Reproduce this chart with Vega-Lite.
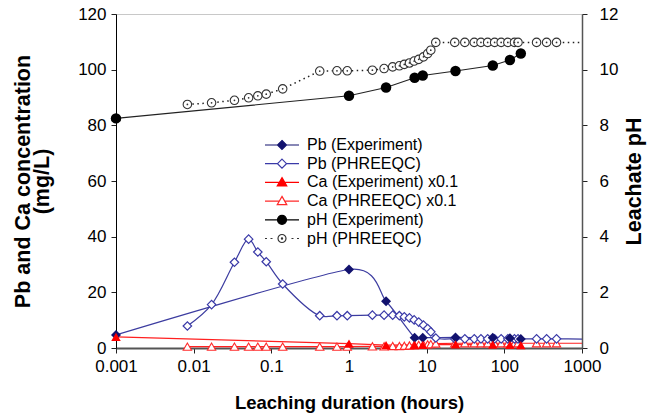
{
  "$schema": "https://vega.github.io/schema/vega-lite/v6.json",
  "width": 466,
  "height": 334,
  "autosize": {"type": "none"},
  "padding": {"left": 116, "top": 14, "right": 71, "bottom": 70},
  "background": "white",
  "config": {
    "font": "Liberation Sans",
    "view": {"stroke": "#c8c8c8", "strokeWidth": 1},
    "axis": {
      "grid": false,
      "labelFont": "Liberation Sans",
      "labelFontSize": 17,
      "labelColor": "black",
      "labelFlush": false,
      "titleFont": "Liberation Sans",
      "titleFontSize": 20,
      "titleFontWeight": "bold",
      "titleColor": "black",
      "tickSize": 5,
      "tickColor": "#222",
      "domainColor": "black"
    }
  },
  "data": {
    "values": [
      {"series": "Pb (Experiment)", "hours": 0.001, "value": 4.7, "sampled": true},
      {"series": "Pb (Experiment)", "hours": 1, "value": 28.2, "sampled": true},
      {"series": "Pb (Experiment)", "hours": 3, "value": 16.8, "sampled": true},
      {"series": "Pb (Experiment)", "hours": 7, "value": 3.7, "sampled": true},
      {"series": "Pb (Experiment)", "hours": 8.9, "value": 3.7, "sampled": true},
      {"series": "Pb (Experiment)", "hours": 23.5, "value": 3.8, "sampled": true},
      {"series": "Pb (Experiment)", "hours": 71, "value": 3.7, "sampled": true},
      {"series": "Pb (Experiment)", "hours": 118, "value": 3.5, "sampled": true},
      {"series": "Pb (Experiment)", "hours": 163, "value": 3.2, "sampled": true},
      {"series": "Ca (Experiment) x0.1", "hours": 0.001, "value": 4.0, "sampled": true},
      {"series": "Ca (Experiment) x0.1", "hours": 1, "value": 1.6, "sampled": true},
      {"series": "Ca (Experiment) x0.1", "hours": 3, "value": 1.0, "sampled": true},
      {"series": "Ca (Experiment) x0.1", "hours": 7, "value": 1.1, "sampled": true},
      {"series": "Ca (Experiment) x0.1", "hours": 8.9, "value": 1.1, "sampled": true},
      {"series": "Ca (Experiment) x0.1", "hours": 23.5, "value": 1.3, "sampled": true},
      {"series": "Ca (Experiment) x0.1", "hours": 71, "value": 1.2, "sampled": true},
      {"series": "Ca (Experiment) x0.1", "hours": 118, "value": 1.1, "sampled": true},
      {"series": "Ca (Experiment) x0.1", "hours": 163, "value": 1.0, "sampled": true},
      {"series": "pH (Experiment)", "hours": 0.001, "value": 8.25, "sampled": true},
      {"series": "pH (Experiment)", "hours": 1, "value": 9.06, "sampled": true},
      {"series": "pH (Experiment)", "hours": 3, "value": 9.36, "sampled": true},
      {"series": "pH (Experiment)", "hours": 7, "value": 9.71, "sampled": true},
      {"series": "pH (Experiment)", "hours": 8.9, "value": 9.79, "sampled": true},
      {"series": "pH (Experiment)", "hours": 23.5, "value": 9.95, "sampled": true},
      {"series": "pH (Experiment)", "hours": 71, "value": 10.15, "sampled": true},
      {"series": "pH (Experiment)", "hours": 118, "value": 10.35, "sampled": true},
      {"series": "pH (Experiment)", "hours": 163, "value": 10.58, "sampled": true},

      {"series": "Pb (PHREEQC)", "hours": 0.0083, "value": 7.9, "sampled": true},
      {"series": "Pb (PHREEQC)", "hours": 0.017, "value": 15.6, "sampled": true},
      {"series": "Pb (PHREEQC)", "hours": 0.0335, "value": 30.8, "sampled": true},
      {"series": "Pb (PHREEQC)", "hours": 0.051, "value": 39.1, "sampled": true},
      {"series": "Pb (PHREEQC)", "hours": 0.067, "value": 34.5, "sampled": true},
      {"series": "Pb (PHREEQC)", "hours": 0.086, "value": 31.0, "sampled": true},
      {"series": "Pb (PHREEQC)", "hours": 0.14, "value": 23.0, "sampled": true},
      {"series": "Pb (PHREEQC)", "hours": 0.42, "value": 11.6, "sampled": true},
      {"series": "Pb (PHREEQC)", "hours": 0.7, "value": 11.6, "sampled": true},
      {"series": "Pb (PHREEQC)", "hours": 0.95, "value": 11.6, "sampled": true},
      {"series": "Pb (PHREEQC)", "hours": 2.0, "value": 11.8, "sampled": true},
      {"series": "Pb (PHREEQC)", "hours": 2.83, "value": 11.8, "sampled": true},
      {"series": "Pb (PHREEQC)", "hours": 3.65, "value": 11.8, "sampled": true},
      {"series": "Pb (PHREEQC)", "hours": 4.45, "value": 11.6, "sampled": true},
      {"series": "Pb (PHREEQC)", "hours": 5.15, "value": 11.2, "sampled": true},
      {"series": "Pb (PHREEQC)", "hours": 6.0, "value": 10.8, "sampled": true},
      {"series": "Pb (PHREEQC)", "hours": 6.9, "value": 10.1, "sampled": true},
      {"series": "Pb (PHREEQC)", "hours": 7.9, "value": 9.3, "sampled": true},
      {"series": "Pb (PHREEQC)", "hours": 9.1, "value": 8.2, "sampled": true},
      {"series": "Pb (PHREEQC)", "hours": 10.3, "value": 7.0, "sampled": true},
      {"series": "Pb (PHREEQC)", "hours": 11.3, "value": 5.8, "sampled": true},
      {"series": "Pb (PHREEQC)", "hours": 13.1, "value": 3.6, "sampled": true},
      {"series": "Pb (PHREEQC)", "hours": 23, "value": 3.3, "sampled": true},
      {"series": "Pb (PHREEQC)", "hours": 31, "value": 3.3, "sampled": true},
      {"series": "Pb (PHREEQC)", "hours": 41, "value": 3.3, "sampled": true},
      {"series": "Pb (PHREEQC)", "hours": 50, "value": 3.3, "sampled": true},
      {"series": "Pb (PHREEQC)", "hours": 61, "value": 3.3, "sampled": true},
      {"series": "Pb (PHREEQC)", "hours": 75, "value": 3.3, "sampled": true},
      {"series": "Pb (PHREEQC)", "hours": 91, "value": 3.3, "sampled": true},
      {"series": "Pb (PHREEQC)", "hours": 111, "value": 3.3, "sampled": true},
      {"series": "Pb (PHREEQC)", "hours": 135, "value": 3.3, "sampled": true},
      {"series": "Pb (PHREEQC)", "hours": 150, "value": 3.3, "sampled": true},
      {"series": "Pb (PHREEQC)", "hours": 260, "value": 3.3, "sampled": true},
      {"series": "Pb (PHREEQC)", "hours": 350, "value": 3.3, "sampled": true},
      {"series": "Pb (PHREEQC)", "hours": 470, "value": 3.3, "sampled": true},
      {"series": "Pb (PHREEQC)", "hours": 1000, "value": 3.2, "sampled": false},

      {"series": "Ca (PHREEQC) x0.1", "hours": 0.0083, "value": 0.5, "sampled": true},
      {"series": "Ca (PHREEQC) x0.1", "hours": 0.017, "value": 0.5, "sampled": true},
      {"series": "Ca (PHREEQC) x0.1", "hours": 0.0335, "value": 0.5, "sampled": true},
      {"series": "Ca (PHREEQC) x0.1", "hours": 0.051, "value": 0.5, "sampled": true},
      {"series": "Ca (PHREEQC) x0.1", "hours": 0.067, "value": 0.5, "sampled": true},
      {"series": "Ca (PHREEQC) x0.1", "hours": 0.086, "value": 0.5, "sampled": true},
      {"series": "Ca (PHREEQC) x0.1", "hours": 0.14, "value": 0.5, "sampled": true},
      {"series": "Ca (PHREEQC) x0.1", "hours": 0.42, "value": 0.5, "sampled": true},
      {"series": "Ca (PHREEQC) x0.1", "hours": 0.7, "value": 0.5, "sampled": true},
      {"series": "Ca (PHREEQC) x0.1", "hours": 0.95, "value": 0.5, "sampled": true},
      {"series": "Ca (PHREEQC) x0.1", "hours": 2.0, "value": 0.6, "sampled": true},
      {"series": "Ca (PHREEQC) x0.1", "hours": 2.83, "value": 0.6, "sampled": true},
      {"series": "Ca (PHREEQC) x0.1", "hours": 3.65, "value": 0.7, "sampled": true},
      {"series": "Ca (PHREEQC) x0.1", "hours": 4.45, "value": 0.7, "sampled": true},
      {"series": "Ca (PHREEQC) x0.1", "hours": 5.15, "value": 0.8, "sampled": true},
      {"series": "Ca (PHREEQC) x0.1", "hours": 6.0, "value": 0.9, "sampled": true},
      {"series": "Ca (PHREEQC) x0.1", "hours": 6.9, "value": 1.0, "sampled": true},
      {"series": "Ca (PHREEQC) x0.1", "hours": 7.9, "value": 1.1, "sampled": true},
      {"series": "Ca (PHREEQC) x0.1", "hours": 9.1, "value": 1.2, "sampled": true},
      {"series": "Ca (PHREEQC) x0.1", "hours": 10.3, "value": 1.3, "sampled": true},
      {"series": "Ca (PHREEQC) x0.1", "hours": 11.3, "value": 1.4, "sampled": true},
      {"series": "Ca (PHREEQC) x0.1", "hours": 13.1, "value": 1.6, "sampled": true},
      {"series": "Ca (PHREEQC) x0.1", "hours": 23, "value": 1.7, "sampled": true},
      {"series": "Ca (PHREEQC) x0.1", "hours": 31, "value": 1.7, "sampled": true},
      {"series": "Ca (PHREEQC) x0.1", "hours": 41, "value": 1.7, "sampled": true},
      {"series": "Ca (PHREEQC) x0.1", "hours": 50, "value": 1.7, "sampled": true},
      {"series": "Ca (PHREEQC) x0.1", "hours": 61, "value": 1.7, "sampled": true},
      {"series": "Ca (PHREEQC) x0.1", "hours": 75, "value": 1.7, "sampled": true},
      {"series": "Ca (PHREEQC) x0.1", "hours": 91, "value": 1.7, "sampled": true},
      {"series": "Ca (PHREEQC) x0.1", "hours": 111, "value": 1.7, "sampled": true},
      {"series": "Ca (PHREEQC) x0.1", "hours": 135, "value": 1.7, "sampled": true},
      {"series": "Ca (PHREEQC) x0.1", "hours": 150, "value": 1.7, "sampled": true},
      {"series": "Ca (PHREEQC) x0.1", "hours": 260, "value": 1.7, "sampled": true},
      {"series": "Ca (PHREEQC) x0.1", "hours": 350, "value": 1.7, "sampled": true},
      {"series": "Ca (PHREEQC) x0.1", "hours": 470, "value": 1.7, "sampled": true},
      {"series": "Ca (PHREEQC) x0.1", "hours": 1000, "value": 1.7, "sampled": false},

      {"series": "pH (PHREEQC)", "hours": 0.0083, "value": 8.75, "sampled": true},
      {"series": "pH (PHREEQC)", "hours": 0.017, "value": 8.81, "sampled": true},
      {"series": "pH (PHREEQC)", "hours": 0.0335, "value": 8.9, "sampled": true},
      {"series": "pH (PHREEQC)", "hours": 0.051, "value": 8.99, "sampled": true},
      {"series": "pH (PHREEQC)", "hours": 0.067, "value": 9.06, "sampled": true},
      {"series": "pH (PHREEQC)", "hours": 0.086, "value": 9.12, "sampled": true},
      {"series": "pH (PHREEQC)", "hours": 0.14, "value": 9.31, "sampled": true},
      {"series": "pH (PHREEQC)", "hours": 0.42, "value": 9.95, "sampled": true},
      {"series": "pH (PHREEQC)", "hours": 0.7, "value": 9.96, "sampled": true},
      {"series": "pH (PHREEQC)", "hours": 0.95, "value": 9.96, "sampled": true},
      {"series": "pH (PHREEQC)", "hours": 2.0, "value": 9.98, "sampled": true},
      {"series": "pH (PHREEQC)", "hours": 2.83, "value": 10.04, "sampled": true},
      {"series": "pH (PHREEQC)", "hours": 3.65, "value": 10.1, "sampled": true},
      {"series": "pH (PHREEQC)", "hours": 4.45, "value": 10.14, "sampled": true},
      {"series": "pH (PHREEQC)", "hours": 5.15, "value": 10.19, "sampled": true},
      {"series": "pH (PHREEQC)", "hours": 6.0, "value": 10.24, "sampled": true},
      {"series": "pH (PHREEQC)", "hours": 6.9, "value": 10.31, "sampled": true},
      {"series": "pH (PHREEQC)", "hours": 7.9, "value": 10.37, "sampled": true},
      {"series": "pH (PHREEQC)", "hours": 9.1, "value": 10.46, "sampled": true},
      {"series": "pH (PHREEQC)", "hours": 10.3, "value": 10.58, "sampled": true},
      {"series": "pH (PHREEQC)", "hours": 11.3, "value": 10.7, "sampled": true},
      {"series": "pH (PHREEQC)", "hours": 13.1, "value": 10.98, "sampled": true},
      {"series": "pH (PHREEQC)", "hours": 23, "value": 10.98, "sampled": true},
      {"series": "pH (PHREEQC)", "hours": 31, "value": 10.98, "sampled": true},
      {"series": "pH (PHREEQC)", "hours": 41, "value": 10.98, "sampled": true},
      {"series": "pH (PHREEQC)", "hours": 50, "value": 10.98, "sampled": true},
      {"series": "pH (PHREEQC)", "hours": 61, "value": 10.98, "sampled": true},
      {"series": "pH (PHREEQC)", "hours": 75, "value": 10.98, "sampled": true},
      {"series": "pH (PHREEQC)", "hours": 91, "value": 10.98, "sampled": true},
      {"series": "pH (PHREEQC)", "hours": 111, "value": 10.98, "sampled": true},
      {"series": "pH (PHREEQC)", "hours": 135, "value": 10.98, "sampled": true},
      {"series": "pH (PHREEQC)", "hours": 150, "value": 10.98, "sampled": true},
      {"series": "pH (PHREEQC)", "hours": 260, "value": 10.98, "sampled": true},
      {"series": "pH (PHREEQC)", "hours": 350, "value": 10.98, "sampled": true},
      {"series": "pH (PHREEQC)", "hours": 470, "value": 10.98, "sampled": true},
      {"series": "pH (PHREEQC)", "hours": 1000, "value": 10.98, "sampled": false}
    ]
  },
  "encoding": {
    "x": {
      "field": "hours",
      "type": "quantitative",
      "scale": {"type": "log", "domain": [0.001, 1000]},
      "axis": {
        "values": [0.001, 0.01, 0.1, 1, 10, 100, 1000],
        "format": "~g",
        "title": "Leaching duration (hours)",
        "titleFontSize": 18.5,
        "domainColor": "#555",
        "domainWidth": 2,
        "labelPadding": 5,
        "titlePadding": 19
      }
    }
  },
  "layer": [
    {
      "transform": [{"filter": "indexof(datum.series, 'pH') < 0"}],
      "encoding": {
        "y": {
          "field": "value",
          "type": "quantitative",
          "scale": {"domain": [0, 120]},
          "axis": {
            "orient": "left",
            "values": [0, 20, 40, 60, 80, 100, 120],
            "title": ["Pb and Ca concentration", "(mg/L)"],
            "titleFontSize": 21.5,
            "titleLineHeight": 19,
            "labelPadding": 5,
            "titlePadding": 24
          }
        }
      },
      "layer": [
        {
          "transform": [{"filter": "datum.series == 'Pb (Experiment)'"}],
          "mark": {"type": "line", "interpolate": "cardinal", "tension": 0.35, "strokeWidth": 1.2, "clip": true, "color": "#3c3ca0"},
          "encoding": {}
        },
        {
          "transform": [{"filter": "datum.series == 'Pb (PHREEQC)'"}],
          "mark": {"type": "line", "interpolate": "catmull-rom", "strokeWidth": 1.2, "clip": true, "color": "#3c3ca0"},
          "encoding": {}
        },
        {
          "transform": [{"filter": "indexof(datum.series, 'Ca') == 0"}],
          "mark": {"type": "line", "strokeWidth": 1.2, "clip": true, "color": "#ff2020"},
          "encoding": {"detail": {"field": "series"}}
        },
        {
          "transform": [{"filter": "datum.sampled && datum.series == 'Ca (PHREEQC) x0.1'"}],
          "mark": {"type": "point", "shape": "triangle-up", "size": 70, "strokeWidth": 1.1, "opacity": 1, "filled": false, "fill": "white", "color": "#ff2a2a"}
        },
        {
          "transform": [{"filter": "datum.sampled && datum.series == 'Pb (PHREEQC)'"}],
          "mark": {"type": "point", "shape": "diamond", "size": 72, "strokeWidth": 1.2, "opacity": 1, "filled": false, "fill": "white", "color": "#3a3aa8"}
        },
        {
          "transform": [{"filter": "datum.series == 'Pb (Experiment)'"}],
          "mark": {"type": "point", "shape": "diamond", "size": 100, "opacity": 1, "filled": true, "color": "#12126e"}
        },
        {
          "transform": [{"filter": "datum.series == 'Ca (Experiment) x0.1'"}],
          "mark": {"type": "point", "shape": "triangle-up", "size": 90, "opacity": 1, "filled": true, "color": "#ff0000"}
        },
        {
          "mark": {"type": "point", "opacity": 0, "strokeWidth": 1.2},
          "encoding": {
            "color": {
              "field": "series",
              "type": "nominal",
              "scale": {
                "domain": ["Pb (Experiment)", "Pb (PHREEQC)", "Ca (Experiment) x0.1", "Ca (PHREEQC) x0.1", "pH (Experiment)", "pH (PHREEQC)"],
                "range": ["#12126e", "#3a3aa8", "#ff0000", "#ff2a2a", "#000000", "#333333"]
              },
              "legend": {
                "title": null,
                "orient": "none",
                "legendX": 158,
                "legendY": 123,
                "labelFont": "Liberation Sans",
                "labelFontSize": 16,
                "labelColor": "black",
                "labelOffset": 17,
                "rowPadding": 2.7,
                "symbolSize": 100,
                "symbolStrokeWidth": 1.2,
                "symbolOpacity": 1
              }
            },
            "fill": {
              "field": "series",
              "type": "nominal",
              "scale": {
                "domain": ["Pb (Experiment)", "Pb (PHREEQC)", "Ca (Experiment) x0.1", "Ca (PHREEQC) x0.1", "pH (Experiment)", "pH (PHREEQC)"],
                "range": ["#12126e", "#ffffff", "#ff0000", "#ffffff", "#000000", "#ffffff"]
              }
            },
            "shape": {
              "field": "series",
              "type": "nominal",
              "scale": {
                "domain": ["Pb (Experiment)", "Pb (PHREEQC)", "Ca (Experiment) x0.1", "Ca (PHREEQC) x0.1", "pH (Experiment)", "pH (PHREEQC)"],
                "range": [
                  "M-3.4,0L-0.9,0M0.9,0L3.4,0M0,-0.9L0.9,0L0,0.9L-0.9,0Z",
                  "M-3.4,0L-0.9,0M0.9,0L3.4,0M0,-0.9L0.9,0L0,0.9L-0.9,0Z",
                  "M-3.4,0L-0.55,0M0.55,0L3.4,0M0,-0.95L0.95,0.7L-0.95,0.7Z",
                  "M-3.4,0L-0.55,0M0.55,0L3.4,0M0,-0.95L0.95,0.7L-0.95,0.7Z",
                  "M-3.4,0L-0.9,0M0.9,0L3.4,0M0.9,0A0.9,0.9 0 1,1 -0.9,0A0.9,0.9 0 1,1 0.9,0Z",
                  "M-3.4,0L-3.0,0M-2.3,0L-1.9,0M1.9,0L2.3,0M3.0,0L3.4,0M0.8,0A0.8,0.8 0 1,1 -0.8,0A0.8,0.8 0 1,1 0.8,0ZM0.12,0A0.12,0.12 0 1,1 -0.12,0A0.12,0.12 0 1,1 0.12,0Z"
                ]
              }
            }
          }
        }
      ]
    },
    {
      "transform": [{"filter": "indexof(datum.series, 'pH') >= 0"}],
      "encoding": {
        "y": {
          "field": "value",
          "type": "quantitative",
          "scale": {"domain": [0, 12]},
          "axis": {
            "orient": "right",
            "values": [0, 2, 4, 6, 8, 10, 12],
            "title": "Leachate pH",
            "titleAngle": 270,
            "titleFontSize": 21.5,
            "domainColor": "#555",
            "domainWidth": 1.5,
            "labelPadding": 12,
            "titlePadding": 28
          }
        }
      },
      "layer": [
        {
          "transform": [{"filter": "datum.series == 'pH (Experiment)'"}],
          "mark": {"type": "line", "strokeWidth": 1.1, "clip": true, "color": "#222222"},
          "encoding": {}
        },
        {
          "transform": [{"filter": "datum.series == 'pH (PHREEQC)'"}],
          "mark": {"type": "line", "strokeWidth": 1.5, "strokeDash": [1.5, 3.5], "clip": true, "color": "#222222"},
          "encoding": {}
        },
        {
          "transform": [{"filter": "datum.sampled && datum.series == 'pH (PHREEQC)'"}],
          "mark": {"type": "point", "shape": "circle", "size": 72, "strokeWidth": 1.1, "opacity": 1, "filled": false, "fill": "white", "color": "#333333"}
        },
        {
          "transform": [{"filter": "datum.sampled && datum.series == 'pH (PHREEQC)'"}],
          "mark": {"type": "point", "shape": "circle", "size": 3, "filled": true, "color": "#333333", "opacity": 1}
        },
        {
          "transform": [{"filter": "datum.series == 'pH (Experiment)'"}],
          "mark": {"type": "point", "shape": "circle", "size": 110, "opacity": 1, "filled": true, "color": "#000000"}
        }
      ]
    }
  ],
  "resolve": {"scale": {"y": "independent"}}
}
